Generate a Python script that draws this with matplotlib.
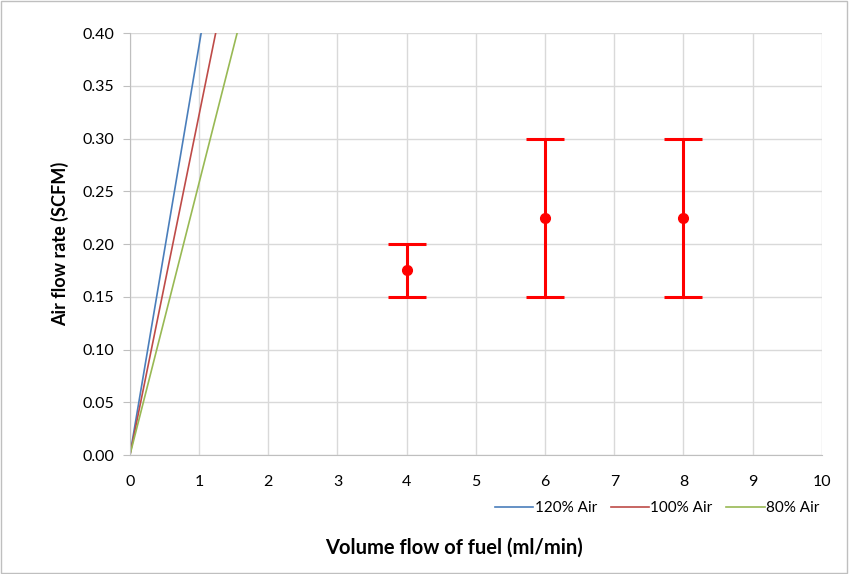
import numpy as np
import matplotlib.pyplot as plt

plt.rcParams['font.family'] = ['Lato', 'DejaVu Sans']

# theoretical air lines (fuel ml/min vs SCFM), clipped at top of axis
line_labels = ['120% Air', '100% Air', '80% Air']
line_colors = ['#4a7ebb', '#be4b48', '#98b954']
line_x = [[0, 1.03], [0, 1.24], [0, 1.55]]
line_y = [[0, 0.40], [0, 0.40], [0, 0.40]]

# measured points
fuel = [4, 6, 8]
air = [0.175, 0.225, 0.225]
air_lo = [0.15, 0.15, 0.15]
air_hi = [0.20, 0.30, 0.30]

fig = plt.figure(figsize=(8.49, 5.74), dpi=100)
ax = fig.add_axes([0.153, 0.207, 0.815, 0.7355])

for xs, ys, c, lab in zip(line_x, line_y, line_colors, line_labels):
    ax.plot(xs, ys, color=c, lw=1.2, label=lab)

yerr = [np.array(air) - np.array(air_lo), np.array(air_hi) - np.array(air)]
ax.errorbar(fuel, air, yerr=yerr, fmt='o', color='red', ms=7, lw=2.2,
            capsize=14, capthick=2.2, zorder=5)

ax.set_xlim(0, 10)
ax.set_ylim(0, 0.40)
ax.set_xticks(np.arange(0, 11, 1))
ax.set_yticks(np.arange(0, 0.41, 0.05))
ax.set_yticklabels([f'{v:.2f}' for v in np.arange(0, 0.41, 0.05)])
ax.grid(True, color='#d9d9d9', lw=1)
ax.set_axisbelow(True)
for s in ['top', 'right']:
    ax.spines[s].set_visible(False)
ax.spines['left'].set_color('#bfbfbf')
ax.spines['bottom'].set_color('#bfbfbf')
ax.tick_params(axis='both', labelsize=11.5, color='#bfbfbf', length=5)
ax.tick_params(axis='y', pad=6)
ax.tick_params(axis='x', length=0, pad=14)

ax.set_ylabel('Air flow rate (SCFM)', fontsize=13, fontweight='bold', labelpad=10)
fig.text(0.535, 0.045, 'Volume flow of fuel (ml/min)', fontsize=14.5,
         fontweight='bold', ha='center', va='center')

ax.legend(loc='center', bbox_to_anchor=(0.762, -0.126), ncol=3, frameon=False,
          fontsize=11, handlelength=2.5, handletextpad=0.1, columnspacing=0.9)

fig.patches.append(plt.Rectangle((0.001, 0.002), 0.997, 0.996, transform=fig.transFigure,
                                 fill=False, edgecolor='#bfbfbf', lw=1))

fig.savefig('out.png', dpi=100)
